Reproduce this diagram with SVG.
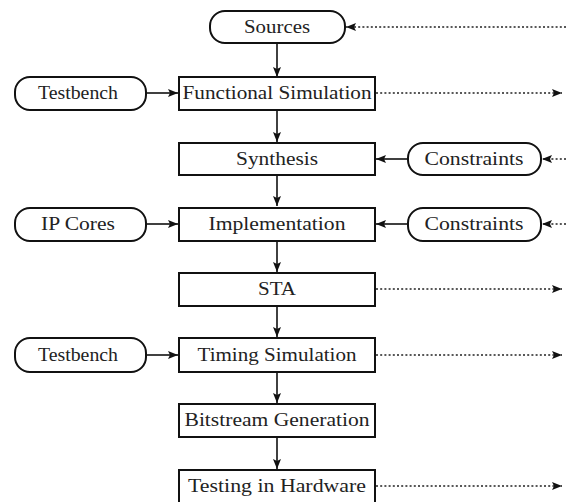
<svg xmlns="http://www.w3.org/2000/svg" width="566" height="502" viewBox="0 0 566 502">
<style>
  .box { fill: #ffffff; stroke: #111111; stroke-width: 2; }
  .pill { fill: #ffffff; stroke: #111111; stroke-width: 2; }
  .lbl { font-family: "Liberation Serif", "DejaVu Serif", serif; font-size: 19px; fill: #222222; text-anchor: middle; }
  .solid { stroke: #111111; stroke-width: 1.6; fill: none; }
  .dot { stroke: #222222; stroke-width: 1.6; fill: none; stroke-dasharray: 2 2.2; }
</style>
<defs>
  <marker id="ah" viewBox="0 0 10 8" refX="10" refY="4" markerWidth="10" markerHeight="8" markerUnits="userSpaceOnUse" orient="auto">
    <path d="M0,0 L10,4 L0,8 L2,4 Z" fill="#111111"/>
  </marker>
</defs>
<rect width="566" height="502" fill="#ffffff"/>

<g id="connectors">
  <line class="solid" x1="277" y1="43" x2="277" y2="77" marker-end="url(#ah)"/>
  <line class="solid" x1="277" y1="111" x2="277" y2="142" marker-end="url(#ah)"/>
  <line class="solid" x1="277" y1="176" x2="277" y2="206" marker-end="url(#ah)"/>
  <line class="solid" x1="277" y1="241" x2="277" y2="272" marker-end="url(#ah)"/>
  <line class="solid" x1="277" y1="307" x2="277" y2="337" marker-end="url(#ah)"/>
  <line class="solid" x1="277" y1="372" x2="277" y2="403" marker-end="url(#ah)"/>
  <line class="solid" x1="277" y1="437" x2="277" y2="469" marker-end="url(#ah)"/>

  <line class="solid" x1="146" y1="93" x2="178" y2="93" marker-end="url(#ah)"/>
  <line class="solid" x1="146" y1="224" x2="178" y2="224" marker-end="url(#ah)"/>
  <line class="solid" x1="146" y1="355" x2="178" y2="355" marker-end="url(#ah)"/>

  <line class="solid" x1="408" y1="159" x2="376" y2="159" marker-end="url(#ah)"/>
  <line class="solid" x1="408" y1="224" x2="376" y2="224" marker-end="url(#ah)"/>

  <line class="dot" x1="566" y1="27" x2="346" y2="27" marker-end="url(#ah)"/>
  <line class="dot" x1="566" y1="159" x2="542" y2="159" marker-end="url(#ah)"/>
  <line class="dot" x1="566" y1="224" x2="542" y2="224" marker-end="url(#ah)"/>
  <line class="dot" x1="376" y1="93" x2="562" y2="93" marker-end="url(#ah)"/>
  <line class="dot" x1="376" y1="289" x2="562" y2="289" marker-end="url(#ah)"/>
  <line class="dot" x1="376" y1="355" x2="562" y2="355" marker-end="url(#ah)"/>
  <line class="dot" x1="376" y1="486" x2="562" y2="486" marker-end="url(#ah)"/>
</g>

<g id="sources">
  <rect class="pill" x="210" y="11" width="135" height="32" rx="15" ry="15"/>
  <text class="lbl" x="277" y="33" textLength="66" lengthAdjust="spacingAndGlyphs">Sources</text>
</g>
<g id="testbench1">
  <rect class="pill" x="15" y="77" width="131" height="33" rx="15" ry="15"/>
  <text class="lbl" x="78" y="99" textLength="80" lengthAdjust="spacingAndGlyphs">Testbench</text>
</g>
<g id="functional-simulation">
  <rect class="box" x="179" y="77" width="196" height="33"/>
  <text class="lbl" x="277" y="99" textLength="189" lengthAdjust="spacingAndGlyphs">Functional Simulation</text>
</g>
<g id="synthesis">
  <rect class="box" x="179" y="143" width="196" height="32"/>
  <text class="lbl" x="277" y="165" textLength="82" lengthAdjust="spacingAndGlyphs">Synthesis</text>
</g>
<g id="constraints1">
  <rect class="pill" x="408" y="143" width="133" height="32" rx="15" ry="15"/>
  <text class="lbl" x="474" y="165" textLength="99" lengthAdjust="spacingAndGlyphs">Constraints</text>
</g>
<g id="ip-cores">
  <rect class="pill" x="15" y="208" width="131" height="33" rx="15" ry="15"/>
  <text class="lbl" x="78" y="230" textLength="74" lengthAdjust="spacingAndGlyphs">IP Cores</text>
</g>
<g id="implementation">
  <rect class="box" x="179" y="208" width="196" height="33"/>
  <text class="lbl" x="277" y="230" textLength="137" lengthAdjust="spacingAndGlyphs">Implementation</text>
</g>
<g id="constraints2">
  <rect class="pill" x="408" y="208" width="133" height="33" rx="15" ry="15"/>
  <text class="lbl" x="474" y="230" textLength="99" lengthAdjust="spacingAndGlyphs">Constraints</text>
</g>
<g id="sta">
  <rect class="box" x="179" y="273" width="196" height="33"/>
  <text class="lbl" x="277" y="295" textLength="38" lengthAdjust="spacingAndGlyphs">STA</text>
</g>
<g id="testbench2">
  <rect class="pill" x="15" y="338" width="131" height="34" rx="15" ry="15"/>
  <text class="lbl" x="78" y="361" textLength="80" lengthAdjust="spacingAndGlyphs">Testbench</text>
</g>
<g id="timing-simulation">
  <rect class="box" x="179" y="338" width="196" height="34"/>
  <text class="lbl" x="277" y="361" textLength="159" lengthAdjust="spacingAndGlyphs">Timing Simulation</text>
</g>
<g id="bitstream-generation">
  <rect class="box" x="179" y="404" width="196" height="33"/>
  <text class="lbl" x="277" y="426" textLength="185" lengthAdjust="spacingAndGlyphs">Bitstream Generation</text>
</g>
<g id="testing-in-hardware">
  <rect class="box" x="179" y="470" width="196" height="33"/>
  <text class="lbl" x="277" y="492" textLength="178" lengthAdjust="spacingAndGlyphs">Testing in Hardware</text>
</g>
</svg>
